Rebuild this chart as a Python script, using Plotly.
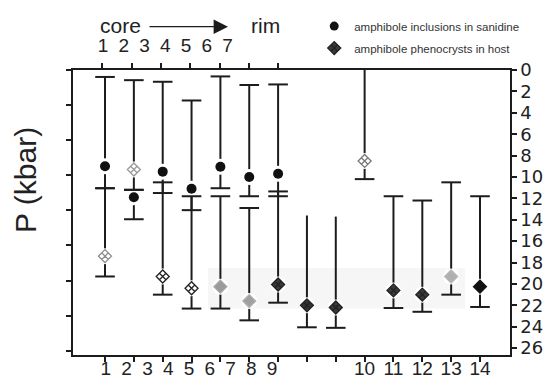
import plotly.graph_objects as go

# ---------------- data ----------------
samples = list(range(1, 15))

# amphibole inclusions in sanidine (samples 1-7)
incl_samples = [1, 2, 3, 4, 5, 6, 7]
incl_P = [9.0, 11.9, 9.5, 11.1, 9.05, 10.0, 9.7]
incl_lo = [0.65, 11.2, 1.1, 2.85, 0.6, 1.4, 1.35]
incl_hi = [11.05, 13.95, 11.5, 13.1, 11.05, 11.8, 11.8]

# amphibole phenocrysts in host (samples 1-14)
phen_P = [17.4, 9.3, 19.3, 20.4, 20.25, 21.6, 20.05, 22.0, 22.2, 8.5, 20.6, 21.0, 19.3, 20.25]
phen_lo = [11.05, 0.95, 10.5, 11.8, 11.8, 12.9, 11.35, 13.6, 13.7, 0.0, 11.8, 12.2, 10.5, 11.8]
phen_hi = [19.3, 11.2, 21.0, 22.3, 22.3, 23.4, 21.75, 24.05, 24.1, 10.2, 22.25, 22.6, 21.0, 22.15]

bottom_labels = ["1", "2", "3", "4", "5", "6", "7", "8", "9", "10", "11", "12", "13", "14"]
top_labels = ["1", "2", "3", "4", "5", "6", "7"]
p_ticks = list(range(0, 27, 2))

# ---------------- styles / positions ----------------
phen_top_cap = [True] * 7 + [False, False, False] + [True] * 4
phen_fill = ["white", "white", "white", "white", "#9a9a9a", "#a0a0a0", "#3a3a3a",
             "#333333", "#3a3a3a", "white", "#3a3a3a", "#3a3a3a", "#b0b0b0", "#111111"]
phen_edge = ["#8a8a8a", "#999999", "#222222", "#222222", "#a8a8a8", "#b0b0b0", "#222222",
             "#222222", "#222222", "#777777", "#222222", "#222222", "#b8b8b8", "#111111"]
phen_symbol = ["diamond-x", "diamond-x", "diamond-x", "diamond-x", "diamond", "diamond", "diamond-x",
               "diamond-x", "diamond-x", "diamond-x", "diamond-x", "diamond-x", "diamond", "diamond"]

bottom_label_pos = [1.03 + 0.72 * k for k in range(9)] + [10, 11, 12, 13, 14]
top_label_pos = [0.93 + 0.72 * k for k in range(7)]
top_tick_pos = [0.9, 1.92, 2.94, 3.96, 4.97, 5.99, 7.0]
left_tick_pos = [3.28 * k for k in range(9)]
band_x = (4.57, 13.48)
band_y = (18.5, 22.3)

X_RANGE = [-0.11, 15.04]
Y_RANGE = [26.64, 0]
INK = "#1c1c1c"

fig = go.Figure()

# vertical range lines
lx, ly = [], []
for s, lo, hi in zip(incl_samples, incl_lo, incl_hi):
    lx += [s, s, None]
    ly += [lo, hi, None]
for s, lo, hi in zip(samples, phen_lo, phen_hi):
    lx += [s, s, None]
    ly += [lo, hi, None]
fig.add_trace(go.Scatter(x=lx, y=ly, mode="lines", line=dict(color=INK, width=2),
                         hoverinfo="skip", showlegend=False))

# white halos around markers (gap in the lines)
fig.add_trace(go.Scatter(x=incl_samples + samples, y=incl_P + phen_P, mode="markers",
                         marker=dict(symbol="circle", size=16, color="white"),
                         hoverinfo="skip", showlegend=False))

# caps
cx, cy = [], []
for s, lo, hi in zip(incl_samples, incl_lo, incl_hi):
    cx += [s, s]
    cy += [lo, hi]
for s, lo, hi, cap in zip(samples, phen_lo, phen_hi, phen_top_cap):
    if cap:
        cx.append(s)
        cy.append(lo)
    cx.append(s)
    cy.append(hi)
fig.add_trace(go.Scatter(x=cx, y=cy, mode="markers",
                         marker=dict(symbol="line-ew", size=14, line=dict(color=INK, width=2)),
                         hoverinfo="skip", showlegend=False))

# markers
fig.add_trace(go.Scatter(x=incl_samples, y=incl_P, mode="markers",
                         marker=dict(symbol="circle", size=10, color="#111111"),
                         showlegend=False))
fig.add_trace(go.Scatter(x=samples, y=phen_P, mode="markers",
                         marker=dict(symbol=phen_symbol, size=10, color=phen_fill,
                                     line=dict(color=phen_edge, width=1.3)),
                         showlegend=False))

# legend entries
fig.add_trace(go.Scatter(x=[None], y=[None], mode="markers", name="amphibole inclusions in sanidine",
                         marker=dict(symbol="circle", size=9, color="#111111"), legendgroup="a"))
fig.add_trace(go.Scatter(x=[None], y=[None], mode="markers", name="amphibole phenocrysts in host",
                         marker=dict(symbol="diamond-x", size=10, color="#3a3a3a",
                                     line=dict(color="#222222", width=1.3)), legendgroup="b"))

# invisible anchor traces so the overlaying axes are drawn
for xa, ya in [("x2", "y"), ("x3", "y"), ("x4", "y"), ("x", "y2")]:
    fig.add_trace(go.Scatter(x=[None], y=[None], xaxis=xa, yaxis=ya, mode="markers",
                             showlegend=False, hoverinfo="skip"))

# faint gray band
fig.add_shape(type="rect", xref="x", yref="y", x0=band_x[0], x1=band_x[1], y0=band_y[0], y1=band_y[1],
              fillcolor="#f6f6f6", line=dict(width=0), layer="below")

axis_common = dict(range=X_RANGE, showgrid=False, zeroline=False, fixedrange=True, automargin=False)
tick_style = dict(ticks="outside", ticklen=5, tickwidth=1.5, tickcolor=INK)
label_font = dict(family="Liberation Sans, Arial", size=19, color="#222222")

fig.update_layout(
    width=545, height=382,
    margin=dict(l=73, r=35, t=65, b=27),
    paper_bgcolor="white", plot_bgcolor="white",
    xaxis=dict(**axis_common, **tick_style, tickvals=samples, showticklabels=False,
               showline=True, linecolor=INK, linewidth=1.5),
    xaxis2=dict(**axis_common, **tick_style, overlaying="x", side="top", anchor="y",
                tickvals=top_tick_pos, showticklabels=False,
                showline=True, linecolor=INK, linewidth=1.5),
    xaxis3=dict(**axis_common, overlaying="x", side="bottom", anchor="y",
                tickvals=bottom_label_pos, ticktext=bottom_labels, ticks="",
                showline=False, tickfont=label_font),
    xaxis4=dict(**axis_common, overlaying="x", side="top", anchor="y",
                tickvals=top_label_pos, ticktext=top_labels, ticks="outside", ticklen=9,
                tickcolor="rgba(0,0,0,0)", showline=False, tickfont=label_font),
    yaxis=dict(range=Y_RANGE, side="right", anchor="x", tickvals=p_ticks, **tick_style,
               showline=True, linecolor=INK, linewidth=1.5, showgrid=False, zeroline=False,
               automargin=False, fixedrange=True,
               tickfont=dict(family="DejaVu Sans", size=18, color="#222222")),
    yaxis2=dict(range=Y_RANGE, overlaying="y", side="left", anchor="x", tickvals=left_tick_pos,
                **tick_style, showticklabels=False, showline=True, linecolor=INK, linewidth=1.5,
                showgrid=False, zeroline=False, automargin=False, fixedrange=True),
    legend=dict(x=0.552, y=1.205, xanchor="left", yanchor="top", bgcolor="rgba(0,0,0,0)",
                font=dict(family="Liberation Sans, Arial", size=11.5, color="#333333"),
                tracegroupgap=3, itemwidth=30),
    showlegend=True,
)

fig.add_annotation(text="P (kbar)", xref="paper", yref="paper", x=-0.11, y=0.614,
                   textangle=-90, showarrow=False, xanchor="center", yanchor="middle",
                   font=dict(family="Liberation Sans, Arial", size=30, color="#222222"))
fig.add_annotation(text="core", xref="paper", yref="paper", x=0.1076, y=1.155,
                   showarrow=False, xanchor="center", yanchor="middle",
                   font=dict(family="Liberation Sans, Arial", size=21, color="#222222"))
fig.add_annotation(text="rim", xref="paper", yref="paper", x=0.4394, y=1.155,
                   showarrow=False, xanchor="center", yanchor="middle",
                   font=dict(family="Liberation Sans, Arial", size=21, color="#222222"))
fig.add_annotation(text="", xref="paper", yref="paper", x=0.3547, y=1.152,
                   ax=-80, ay=0, showarrow=True, arrowhead=2, arrowwidth=1.2, arrowsize=2.4,
                   arrowcolor=INK)

fig.write_html("out.html")
